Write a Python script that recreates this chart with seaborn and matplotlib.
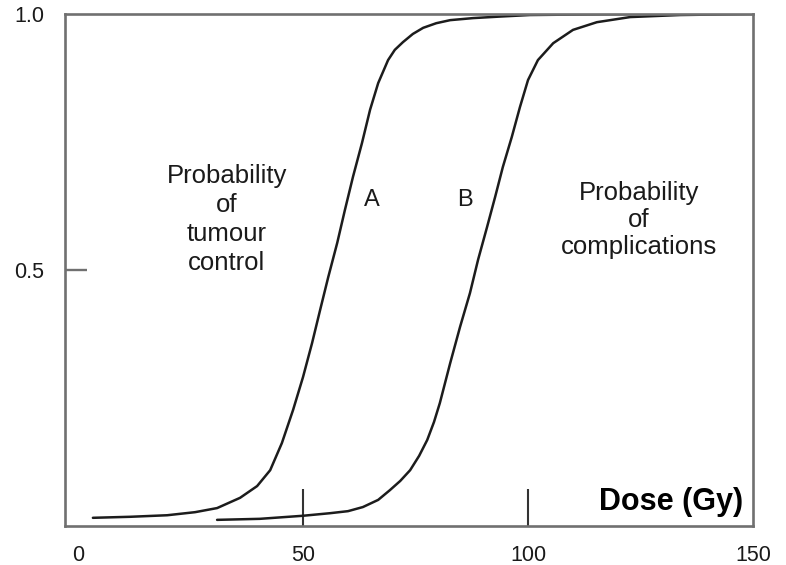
import matplotlib
matplotlib.use("Agg")
import matplotlib.pyplot as plt
import seaborn as sns
import pandas as pd

# ---- data ----
dose_a = [3.3, 11.6, 19.8, 26.0, 30.9, 36.0, 39.8, 42.7, 45.3, 47.8, 50.0, 52.0, 53.8,
          55.6, 57.6, 59.3, 61.1, 63.1, 64.9, 66.7, 68.9, 70.4, 72.2, 74.4, 76.7,
          79.6, 82.7, 87.8, 93.8, 100.4, 111.6, 124.9]
prob_a = [0.016, 0.018, 0.021, 0.027, 0.035, 0.055, 0.078, 0.109, 0.162, 0.227, 0.291,
          0.357, 0.422, 0.486, 0.553, 0.617, 0.682, 0.748, 0.813, 0.865, 0.910, 0.930,
          0.945, 0.961, 0.973, 0.982, 0.988, 0.992, 0.995, 0.998, 0.999, 1.0]

dose_b = [30.9, 40.4, 50.0, 56.0, 60.0, 63.3, 66.7, 69.3, 71.6, 73.8, 75.8, 77.6, 79.1,
          80.4, 82.7, 84.9, 87.1, 88.9, 90.9, 92.7, 94.4, 96.4, 98.2, 100.0, 102.2,
          105.6, 110.0, 115.3, 122.7, 133.8, 150.0]
prob_b = [0.012, 0.014, 0.020, 0.025, 0.029, 0.037, 0.051, 0.070, 0.088, 0.109, 0.137,
          0.168, 0.203, 0.240, 0.318, 0.389, 0.455, 0.520, 0.584, 0.643, 0.701, 0.760,
          0.818, 0.871, 0.910, 0.943, 0.969, 0.984, 0.994, 0.998, 1.0]

x_ticks = [0, 50, 100, 150]
x_tick_labels = ["0", "50", "100", "150"]
x_marks = [50, 100]
y_ticks = [0.5, 1.0]
y_tick_labels = ["0.5", "1.0"]
y_marks = [0.5]

curve_labels = ["A", "B"]
text_tumour = "Probability\nof\ntumour\ncontrol"
text_compl = "Probability\nof\ncomplications"
x_title = "Dose (Gy)"

df = pd.concat([
    pd.DataFrame({"dose": dose_a, "prob": prob_a, "curve": curve_labels[0]}),
    pd.DataFrame({"dose": dose_b, "prob": prob_b, "curve": curve_labels[1]}),
])

sns.set_theme(style="white")
plt.rcParams["font.family"] = ["Liberation Sans", "DejaVu Sans"]

fig = plt.figure(figsize=(7.86, 5.65), dpi=100)
ax = fig.add_axes([65 / 786, 1 - 526 / 565, (753 - 65) / 786, (526 - 14) / 565])

sns.lineplot(data=df, x="dose", y="prob", hue="curve", units="curve", estimator=None,
             palette={curve_labels[0]: "#1c1c1c", curve_labels[1]: "#1c1c1c"},
             linewidth=1.8, legend=False, ax=ax)
for ln in ax.lines:
    ln.set_solid_joinstyle("round")
    ln.set_solid_capstyle("round")

ax.set_xlim(-2.9, 150)
ax.set_ylim(0, 1.0)

for s in ax.spines.values():
    s.set_visible(True)
    s.set_color("#707070")
    s.set_linewidth(1.9)

ax.xaxis.remove_overlapping_locs = False
ax.yaxis.remove_overlapping_locs = False
ax.set_xticks(x_ticks)
ax.set_xticklabels(x_tick_labels)
ax.set_yticks(y_ticks)
ax.set_yticklabels(y_tick_labels)
ax.set_xticks(x_marks, minor=True)
ax.set_yticks(y_marks, minor=True)
ax.tick_params(axis="both", which="major", length=0, labelsize=15.5, labelcolor="#1a1a1a")
ax.tick_params(axis="x", which="major", pad=14)
ax.tick_params(axis="y", which="major", pad=15)
ax.tick_params(axis="x", which="minor", direction="in", length=27, width=1.5,
               color="#333333", bottom=True, labelbottom=False)
ax.tick_params(axis="y", which="minor", direction="in", length=16, width=1.7,
               color="#707070", left=True, labelleft=False)
ax.set_xlabel("")
ax.set_ylabel("")
ax.grid(False)

ax.text(0.235, 0.598, text_tumour, transform=ax.transAxes, ha="center", va="center",
        fontsize=18.5, linespacing=1.26, color="#1a1a1a")
ax.text(0.834, 0.597, text_compl, transform=ax.transAxes, ha="center", va="center",
        fontsize=18.5, linespacing=1.15, color="#1a1a1a")
ax.text(0.446, 0.636, curve_labels[0], transform=ax.transAxes, ha="center", va="center",
        fontsize=17, color="#1a1a1a")
ax.text(0.582, 0.636, curve_labels[1], transform=ax.transAxes, ha="center", va="center",
        fontsize=17, color="#1a1a1a")
ax.text(0.9855, 0.047, x_title, transform=ax.transAxes, ha="right", va="center",
        fontsize=22, fontweight="bold", color="black")

fig.savefig("out.png", dpi=100)
